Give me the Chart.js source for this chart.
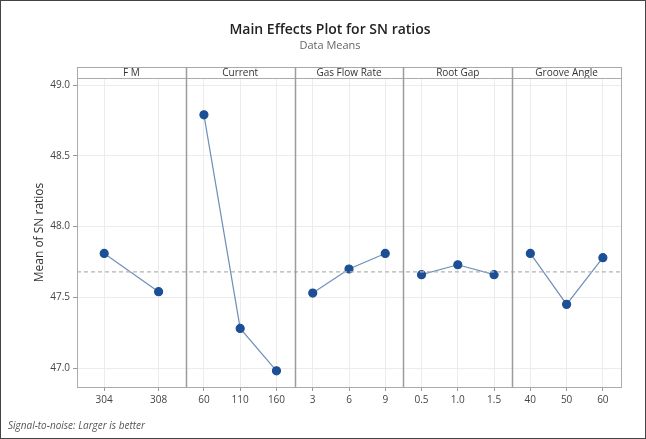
<!DOCTYPE html>
<html>
<head>
<meta charset="utf-8">
<script src="https://cdn.jsdelivr.net/npm/chart.js@4.4.1/dist/chart.umd.min.js"></script>
<style>
  html, body { margin: 0; padding: 0; background: #fff; }
  #wrap { position: relative; width: 646px; height: 439px; }
</style>
</head>
<body>
<div id="wrap"><canvas id="grafico" width="646" height="439"></canvas></div>
<script>
/* ── Dados ──────────────────────────────────────────────────── */
const fatores = ['F M', 'Current', 'Gas Flow Rate', 'Root Gap', 'Groove Angle'];

const niveisFM      = ['304', '308'];
const mediasFM      = [47.81, 47.54];
const niveisCurrent = ['60', '110', '160'];
const mediasCurrent = [48.79, 47.28, 46.98];
const niveisGas     = ['3', '6', '9'];
const mediasGas     = [47.53, 47.70, 47.81];
const niveisRoot    = ['0.5', '1.0', '1.5'];
const mediasRoot    = [47.66, 47.73, 47.66];
const niveisGroove  = ['40', '50', '60'];
const mediasGroove  = [47.81, 47.45, 47.78];

const mediaGeral = 47.68;
const ticksY     = [47.0, 47.5, 48.0, 48.5, 49.0];

const niveis = [niveisFM, niveisCurrent, niveisGas, niveisRoot, niveisGroove];
const medias = [mediasFM, mediasCurrent, mediasGas, mediasRoot, mediasGroove];

/* ── Posições no eixo x: cada painel ocupa uma unidade ─────── */
const posicoes = [];   // { valor, rotulo }
const datasets = niveis.map((lista, i) => {
  const pts = lista.map((rot, j) => {
    const x = i + (j + 0.5) / lista.length;
    posicoes.push({ valor: x, rotulo: rot });
    return { x, y: medias[i][j] };
  });
  return {
    label: fatores[i],
    data: pts,
    borderColor: '#6f8fb8',
    borderWidth: 1.2,
    pointBackgroundColor: '#1c4f95',
    pointBorderColor: '#1c4f95',
    pointRadius: 4,
    pointHoverRadius: 4,
    tension: 0,
  };
});

datasets.unshift({
  label: 'Média geral',
  data: [{ x: 0, y: mediaGeral }, { x: fatores.length, y: mediaGeral }],
  borderColor: '#b4b4b4',
  borderWidth: 1.2,
  borderDash: [4, 3],
  pointRadius: 0,
});

/* ── Plugin: fundo, cabeçalhos dos painéis, divisórias e textos ─ */
const FONTE = '"Open Sans", "Noto Sans", sans-serif';

const pluginPaineis = {
  id: 'paineis',
  beforeDraw(chart) {
    const ctx = chart.ctx;
    ctx.save();
    ctx.fillStyle = '#fff';
    ctx.fillRect(0, 0, chart.width, chart.height);
    ctx.restore();
  },
  afterDraw(chart) {
    const { ctx, chartArea: a, scales: { x } } = chart;
    const topoFaixa = 67;
    ctx.save();

    // faixa dos cabeçalhos
    ctx.strokeStyle = '#a8a8a8';
    ctx.lineWidth = 1;
    ctx.strokeRect(a.left + 0.5, topoFaixa + 0.5, a.right - a.left, a.top - topoFaixa);
    ctx.fillStyle = '#333';
    ctx.font = '10px ' + FONTE;
    ctx.textAlign = 'center';
    ctx.textBaseline = 'middle';
    fatores.forEach((f, i) => {
      const cx = (x.getPixelForValue(i) + x.getPixelForValue(i + 1)) / 2;
      ctx.fillText(f, cx, (topoFaixa + a.top) / 2 + 0.5);
    });

    // moldura da área de plotagem
    ctx.strokeStyle = '#ababab';
    ctx.strokeRect(a.left + 0.5, a.top + 0.5, a.right - a.left, a.bottom - a.top);

    // divisórias entre painéis
    ctx.strokeStyle = '#9c9c9c';
    ctx.lineWidth = 1.5;
    for (let i = 1; i < fatores.length; i++) {
      const px = Math.round(x.getPixelForValue(i)) + 0.5;
      ctx.beginPath();
      ctx.moveTo(px, topoFaixa);
      ctx.lineTo(px, a.bottom);
      ctx.stroke();
    }

    // título e subtítulo
    ctx.fillStyle = '#222';
    ctx.font = '600 14px ' + FONTE;
    ctx.fillText('Main Effects Plot for SN ratios', 330, 30);
    ctx.fillStyle = '#666';
    ctx.font = '11px ' + FONTE;
    ctx.fillText('Data Means', 330, 46);

    // título do eixo y
    ctx.save();
    ctx.translate(40, (a.top + a.bottom) / 2);
    ctx.rotate(-Math.PI / 2);
    ctx.fillStyle = '#333';
    ctx.font = '12px ' + FONTE;
    ctx.fillText('Mean of SN ratios', 0, 0);
    ctx.restore();

    // rodapé
    ctx.textAlign = 'left';
    ctx.fillStyle = '#555';
    ctx.font = 'italic 10px ' + FONTE;
    ctx.fillText('Signal-to-noise: Larger is better', 8, 426);

    // borda da imagem
    ctx.strokeStyle = '#444';
    ctx.lineWidth = 1;
    ctx.strokeRect(0.5, 0.5, chart.width - 1, chart.height - 1);
    ctx.restore();
  },
};

/* ── Criação do gráfico ──────────────────────────────────────── */
new Chart(document.getElementById('grafico').getContext('2d'), {
  type: 'line',
  data: { datasets },
  plugins: [pluginPaineis],
  options: {
    responsive: false,
    animation: false,
    layout: { padding: { top: 78, left: 4, right: 25, bottom: 0 } },
    plugins: { legend: { display: false }, tooltip: { enabled: false } },
    scales: {
      x: {
        type: 'linear',
        min: 0,
        max: fatores.length,
        afterBuildTicks(scale) {
          scale.ticks = posicoes.map(p => ({ value: p.valor }));
        },
        afterFit(scale) { scale.height = 52; },
        grid: { color: '#ececec', tickColor: '#9a9a9a', tickLength: 4, drawBorder: false },
        border: { display: false },
        ticks: {
          autoSkip: false,
          maxRotation: 0,
          padding: 3,
          color: '#444',
          font: { size: 10, family: FONTE },
          callback(v) {
            const p = posicoes.find(q => Math.abs(q.valor - v) < 1e-6);
            return p ? p.rotulo : '';
          },
        },
      },
      y: {
        min: 46.866,
        max: 49.05,
        afterBuildTicks(scale) {
          scale.ticks = ticksY.map(v => ({ value: v }));
        },
        afterFit(scale) { scale.width = 73; },
        grid: { color: '#ececec', tickColor: '#9a9a9a', tickLength: 4 },
        border: { display: false },
        ticks: {
          padding: 3,
          color: '#444',
          font: { size: 10, family: FONTE },
          callback: v => v.toFixed(1),
        },
      },
    },
  },
});
</script>
</body>
</html>
